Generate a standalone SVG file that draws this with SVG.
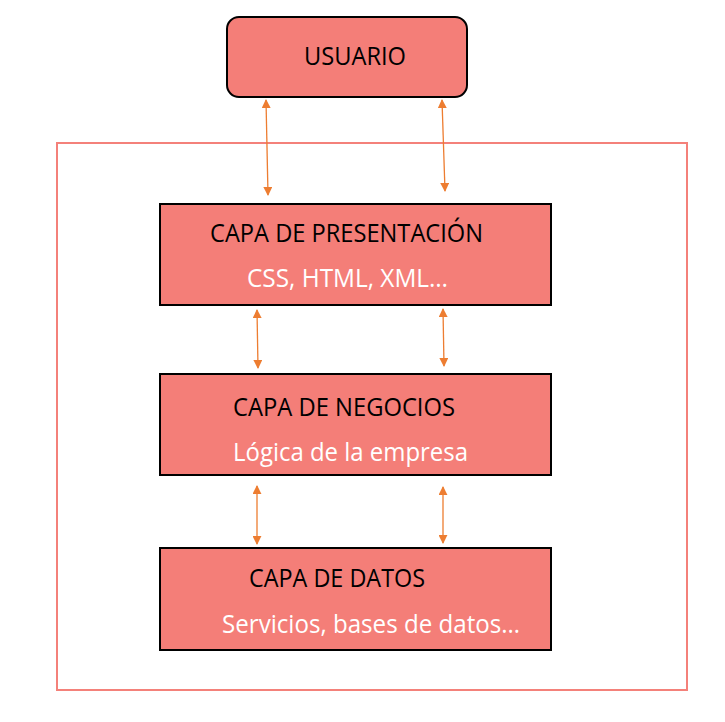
<svg xmlns="http://www.w3.org/2000/svg" width="725" height="722" viewBox="0 0 725 722">
<defs>
<marker id="ah" viewBox="0 0 10 10" refX="9" refY="5" markerWidth="9" markerHeight="9" markerUnits="userSpaceOnUse" orient="auto-start-reverse">
<path d="M0,0 L10,5 L0,10 Z" fill="#ED7D31"/>
</marker>
</defs>
<style>
.box{fill:#F47E78;stroke:#000;stroke-width:2}
.t{font-family:"Open Sans","Noto Sans","Liberation Sans",sans-serif;font-size:25px;fill:#000}
.s{font-family:"Open Sans","Noto Sans","Liberation Sans",sans-serif;font-size:25px;fill:#fff}
.c{stroke:#ED7D31;stroke-width:1.3;fill:none;marker-start:url(#ah);marker-end:url(#ah)}
</style>
<rect id="frame" x="57" y="143" width="630" height="547" fill="none" stroke="#F4817A" stroke-width="2"/>
<g id="usuario">
<rect class="box" x="227" y="17" width="240" height="80" rx="12"/>
<text class="t" x="304" y="65" textLength="102" lengthAdjust="spacingAndGlyphs">USUARIO</text>
</g>
<g id="presentacion">
<rect class="box" x="160" y="204" width="391" height="101"/>
<text class="t" x="210" y="242" textLength="273" lengthAdjust="spacingAndGlyphs">CAPA DE PRESENTACIÓN</text>
<text class="s" x="247" y="287" textLength="201" lengthAdjust="spacingAndGlyphs">CSS, HTML, XML…</text>
</g>
<g id="negocios">
<rect class="box" x="160" y="374" width="391" height="101"/>
<text class="t" x="233" y="416" textLength="222" lengthAdjust="spacingAndGlyphs">CAPA DE NEGOCIOS</text>
<text class="s" x="233" y="461" textLength="235" lengthAdjust="spacingAndGlyphs">Lógica de la empresa</text>
</g>
<g id="datos">
<rect class="box" x="160" y="548" width="391" height="102"/>
<text class="t" x="249" y="587" textLength="176" lengthAdjust="spacingAndGlyphs">CAPA DE DATOS</text>
<text class="s" x="222" y="633" textLength="298" lengthAdjust="spacingAndGlyphs">Servicios, bases de datos…</text>
</g>
<g id="connectors">
<line class="c" x1="266" y1="100" x2="268" y2="195"/>
<line class="c" x1="442" y1="100" x2="445" y2="191"/>
<line class="c" x1="257" y1="310" x2="258" y2="368"/>
<line class="c" x1="443" y1="309" x2="444" y2="366"/>
<line class="c" x1="257" y1="486" x2="257" y2="544"/>
<line class="c" x1="443" y1="487" x2="443" y2="543"/>
</g>
</svg>
